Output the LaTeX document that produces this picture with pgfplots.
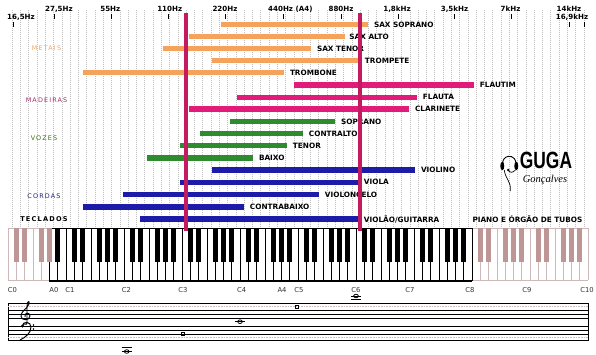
\documentclass[border=0pt]{standalone}
\usepackage{pgfplots}
\pgfplotsset{compat=1.18}
\usepackage{graphicx}
\usepackage{fontspec}
\setmainfont{DejaVu Sans}
\newfontfamily\catf[LetterSpace=18]{DejaVu Sans}
\newfontfamily\logof{Liberation Sans}
\newfontfamily\sigf{Liberation Serif}

\definecolor{cor}{RGB}{245,162,92}
\definecolor{cpk}{RGB}{226,26,122}
\definecolor{cgr}{RGB}{46,140,46}
\definecolor{cbl}{RGB}{28,28,168}
\definecolor{cred}{RGB}{196,26,96}
\definecolor{cmad}{RGB}{168,40,110}
\definecolor{cvoz}{RGB}{60,110,20}
\definecolor{ccor}{RGB}{32,32,120}
\definecolor{kgray}{RGB}{205,185,185}
\definecolor{kbgray}{RGB}{190,150,150}
\definecolor{gridc}{RGB}{190,190,190}

\tikzset{
  lbl/.style={anchor=west, inner sep=0pt, xshift=3.3pt, text=black,
              font=\bfseries\fontsize{7.3}{8}\selectfont},
  frq/.style={inner sep=0pt, text=black, font=\bfseries\fontsize{7.1}{8}\selectfont},
  cat/.style={inner sep=0pt, font=\catf\fontsize{6.4}{7}\selectfont},
  key/.style={inner sep=0pt, text=black!80, font=\fontsize{6.8}{7}\selectfont},
}
\pgfplotsset{rng/.style={line width=5.4pt, line cap=butt, forget plot}}

\begin{document}
\begin{tikzpicture}
\begin{axis}[scale only axis, width=596pt, height=354pt,
  xmin=-0.9655, xmax=70.966, ymin=0, ymax=354, y dir=reverse,
  hide axis, clip=false]

% grid lines at white-key centres
\pgfplotsinvokeforeach{0.5,1.5,...,69.5}{
  \draw[gridc, line width=0.5pt, dash pattern=on 0.9pt off 1.1pt] (axis cs:#1,10) -- (axis cs:#1,227);
}

% frequency labels
\node[frq] at (axis cs:1.57,17) {16,5Hz};
\draw[line width=0.7pt] (axis cs:0.60,22) -- (axis cs:0.60,27);
\node[frq] at (axis cs:6.15,9) {27,5Hz};
\draw[line width=0.7pt] (axis cs:5.55,14) -- (axis cs:5.55,19);
\node[frq] at (axis cs:12.35,9) {55Hz};
\draw[line width=0.7pt] (axis cs:12.43,14) -- (axis cs:12.43,19);
\node[frq] at (axis cs:19.52,9) {110Hz};
\draw[line width=0.7pt] (axis cs:19.31,14) -- (axis cs:19.31,19);
\node[frq] at (axis cs:26.19,9) {220Hz};
\draw[line width=0.7pt] (axis cs:26.19,14) -- (axis cs:26.19,19);
\node[frq, anchor=west] at (axis cs:31.38,9) {440Hz (A4)};
\draw[line width=0.7pt] (axis cs:33.19,14) -- (axis cs:33.19,19);
\node[frq] at (axis cs:40.19,9) {880Hz};
\draw[line width=0.7pt] (axis cs:40.19,14) -- (axis cs:40.19,19);
\node[frq] at (axis cs:46.95,9) {1,8kHz};
\draw[line width=0.7pt] (axis cs:47.07,14) -- (axis cs:47.07,19);
\node[frq] at (axis cs:53.89,9) {3,5kHz};
\draw[line width=0.7pt] (axis cs:53.83,14) -- (axis cs:53.83,19);
\node[frq] at (axis cs:60.65,9) {7kHz};
\draw[line width=0.7pt] (axis cs:60.71,14) -- (axis cs:60.71,19);
\node[frq] at (axis cs:67.71,9) {14kHz};
\draw[line width=0.7pt] (axis cs:67.71,22) -- (axis cs:67.71,27);
\node[frq] at (axis cs:68.07,17) {16,9kHz};
\draw[line width=0.7pt] (axis cs:69.52,22) -- (axis cs:69.52,27);

% group labels
\node[cat, text=cor] at (axis cs:4.65,47.7) {METAIS};
\node[cat, text=cmad] at (axis cs:4.65,100.5) {MADEIRAS};
\node[cat, text=cvoz] at (axis cs:4.34,138.3) {VOZES};
\node[cat, text=ccor] at (axis cs:4.34,195.7) {CORDAS};
\node[cat, text=black, font=\catf\bfseries\fontsize{6.6}{7}\selectfont] at (axis cs:4.34,219.3) {TECLADOS};

% ranges (white-key units: 0 = C0 left edge, 70 = C10)
\addplot[rng, draw=cor] coordinates {(25.71,24.5) (43.45,24.5)} node[lbl,pos=1] {SAX SOPRANO};
\addplot[rng, draw=cor] coordinates {(21.84,36.5) (40.67,36.5)} node[lbl,pos=1,xshift=-1.5pt] {SAX ALTO};
\addplot[rng, draw=cor] coordinates {(18.71,48.6) (36.57,48.6)} node[lbl,pos=1] {SAX TENOR};
\addplot[rng, draw=cor] coordinates {(24.62,60.7) (42.36,60.7)} node[lbl,pos=1] {TROMPETE};
\addplot[rng, draw=cor] coordinates {(9.05,72.5) (33.31,72.5)} node[lbl,pos=1] {TROMBONE};
\addplot[rng, draw=cpk] coordinates {(34.52,85.0) (56.24,85.0)} node[lbl,pos=1] {FLAUTIM};
\addplot[rng, draw=cpk] coordinates {(27.64,97.3) (49.36,97.3)} node[lbl,pos=1] {FLAUTA};
\addplot[rng, draw=cpk] coordinates {(21.84,109.1) (48.40,109.1)} node[lbl,pos=1] {CLARINETE};
\addplot[rng, draw=cgr] coordinates {(26.79,121.5) (39.47,121.5)} node[lbl,pos=1] {SOPRANO};
\addplot[rng, draw=cgr] coordinates {(23.17,133.6) (35.60,133.6)} node[lbl,pos=1] {CONTRALTO};
\addplot[rng, draw=cgr] coordinates {(20.76,145.7) (33.67,145.7)} node[lbl,pos=1] {TENOR};
\addplot[rng, draw=cgr] coordinates {(16.78,157.8) (29.57,157.8)} node[lbl,pos=1] {BAIXO};
\addplot[rng, draw=cbl] coordinates {(24.62,170.0) (49.12,170.0)} node[lbl,pos=1] {VIOLINO};
\addplot[rng, draw=cbl] coordinates {(20.76,182.2) (42.24,182.2)} node[lbl,pos=1] {VIOLA};
\addplot[rng, draw=cbl] coordinates {(13.88,194.5) (37.53,194.5)} node[lbl,pos=1] {VIOLONCELO};
\addplot[rng, draw=cbl] coordinates {(9.05,206.8) (28.48,206.8)} node[lbl,pos=1] {CONTRABAIXO};
\addplot[rng, draw=cbl] coordinates {(15.93,219.0) (42.24,219.0)} node[lbl,pos=1] {VIOLÃO/GUITARRA};
\node[lbl, anchor=west, xshift=0pt] at (axis cs:55.64,219.5) {PIANO E ÓRGÃO DE TUBOS};

% logo
\begin{scope}[shift={(axis cs:60.5,163)}]
  \draw[line width=0.9pt] (-6.5pt,-1pt) arc[start angle=190, end angle=-10, radius=6.6pt];
  \fill (-7pt,-3pt) ellipse [x radius=2pt, y radius=4.2pt];
  \fill (7pt,-3pt) ellipse [x radius=2pt, y radius=4.2pt];
  \draw[line width=0.7pt] (-5pt,-7pt) .. controls (-4pt,-16pt) and (2pt,-18pt) .. (1pt,-28pt);
  \draw[line width=0.7pt] (6pt,-7pt) .. controls (4pt,-10pt) and (0pt,-10pt) .. (-1pt,-7pt);
  \fill (-1pt,-7pt) circle [radius=1.3pt];
\end{scope}
\node[inner sep=0pt] at (axis cs:64.93,160.5) {\scalebox{0.74}[1]{\logof\bfseries\fontsize{23.5}{24}\selectfont GUGA}};
\node[inner sep=0pt] at (axis cs:64.81,180) {\sigf\itshape\fontsize{10.5}{11}\selectfont Gonçalves};

% keyboard
\fill[white] (axis cs:0,228) rectangle (axis cs:70,281);
\pgfplotsinvokeforeach{0,1,2,3,4,57,58,...,70}{
  \draw[kgray, line width=0.6pt] (axis cs:#1,228) -- (axis cs:#1,280);
}
\draw[kgray, line width=0.6pt] (axis cs:0,228) -- (axis cs:5,228) (axis cs:56,228) -- (axis cs:70,228)
   (axis cs:0,280) -- (axis cs:5,280) (axis cs:56,280) -- (axis cs:70,280);
\pgfplotsinvokeforeach{5,6,...,56}{
  \draw[black, line width=0.6pt] (axis cs:#1,228) -- (axis cs:#1,281);
}
\draw[black, line width=1pt] (axis cs:5,228) -- (axis cs:56,228);
\draw[black, line width=1.6pt] (axis cs:5,281) -- (axis cs:56,281);
\pgfplotsinvokeforeach{1,2,4,5,57,58,60,61,62,64,65,67,68,69}{
  \fill[kbgray] ([xshift=-2.5pt]axis cs:#1,228) rectangle ([xshift=2.5pt]axis cs:#1,262);
}
\pgfplotsinvokeforeach{6,8,9,11,12,13,15,16,18,19,20,22,23,25,26,27,29,30,32,33,34,36,37,39,40,41,43,44,46,47,48,50,51,53,54,55}{
  \fill[black] ([xshift=-2.5pt]axis cs:#1,228) rectangle ([xshift=2.5pt]axis cs:#1,262);
}

% red markers (C3 and C6)
\addplot[draw=cred, line width=3.4pt, forget plot] coordinates {(21.5,13) (21.5,231)};
\addplot[draw=cred, line width=3.4pt, forget plot] coordinates {(42.5,13) (42.5,231)};

% key names
\node[key] at (axis cs:0.54,290) {C0};
\node[key] at (axis cs:5.55,290) {A0};
\node[key] at (axis cs:7.48,290) {C1};
\node[key] at (axis cs:14.30,290) {C2};
\node[key] at (axis cs:21.12,290) {C3};
\node[key] at (axis cs:28.20,290) {C4};
\node[key] at (axis cs:33.07,290) {A4};
\node[key] at (axis cs:35.10,290) {C5};
\node[key] at (axis cs:42.00,290) {C6};
\node[key] at (axis cs:48.52,290) {C7};
\node[key] at (axis cs:55.76,290) {C8};
\node[key] at (axis cs:62.64,290) {C9};
\node[key] at (axis cs:69.88,290) {C10};

% staff
\draw[black, line width=0.7pt] (axis cs:0,303.5) rectangle (axis cs:70,340);
\draw[kgray, line width=1.3pt, dash pattern=on 1pt off 0.6pt] (axis cs:0,306.5) -- (axis cs:70,306.5);
\draw[kgray, line width=1.3pt, dash pattern=on 1pt off 0.6pt] (axis cs:0,337.5) -- (axis cs:70,337.5);
\pgfplotsinvokeforeach{310.5,314.5,318.5,326,330,334}{
  \draw[black, line width=0.6pt] (axis cs:0,#1) -- (axis cs:70,#1);
}
% clefs
\begin{scope}[shift={(axis cs:2.17,312)}]
  \draw[line width=0.9pt] (-2pt,-12pt) .. controls (0pt,-13.5pt) and (1.5pt,-12pt) .. (1pt,-9pt)
     -- (1pt,6pt) .. controls (1pt,11pt) and (4pt,12pt) .. (3pt,8pt) .. controls (2pt,4pt) and (-5pt,1pt) .. (-5pt,-4pt)
     .. controls (-5pt,-9pt) and (4pt,-9pt) .. (4pt,-4pt) .. controls (4pt,0pt) and (-2pt,0pt) .. (-1pt,-5pt);
\end{scope}
\begin{scope}[shift={(axis cs:2.17,329)}]
  \fill (-3.5pt,3pt) circle [radius=1.6pt];
  \draw[line width=1pt] (-3.5pt,3pt) .. controls (-3.5pt,8pt) and (5pt,8pt) .. (5pt,2pt) .. controls (5pt,-4pt) and (0pt,-8pt) .. (-6pt,-11pt);
  \fill (7.5pt,4pt) circle [radius=0.8pt];
  \fill (7.5pt,0pt) circle [radius=0.8pt];
\end{scope}
% notes
\draw[line width=0.7pt] (axis cs:13.7,347.5) -- (axis cs:15.0,347.5) (axis cs:13.7,351.5) -- (axis cs:15.0,351.5);
\draw[line width=0.7pt] (axis cs:27.4,321.7) -- (axis cs:28.6,321.7);
\draw[line width=0.7pt] (axis cs:41.4,296) -- (axis cs:42.6,296) (axis cs:41.4,299.5) -- (axis cs:42.6,299.5);
\addplot[only marks, mark=o, mark size=1.8pt, mark options={xscale=1.3, line width=0.8pt, fill=white}, forget plot]
  coordinates {(14.33,351.5) (28.0,321.7) (42.0,296)};
\addplot[only marks, mark=square, mark size=1.5pt, mark options={line width=0.7pt, fill=white}, forget plot]
  coordinates {(21.12,334) (34.84,307)};
\end{axis}
\pgfresetboundingbox
\path (current axis.south west) rectangle (current axis.north east);
\end{tikzpicture}
\end{document}
